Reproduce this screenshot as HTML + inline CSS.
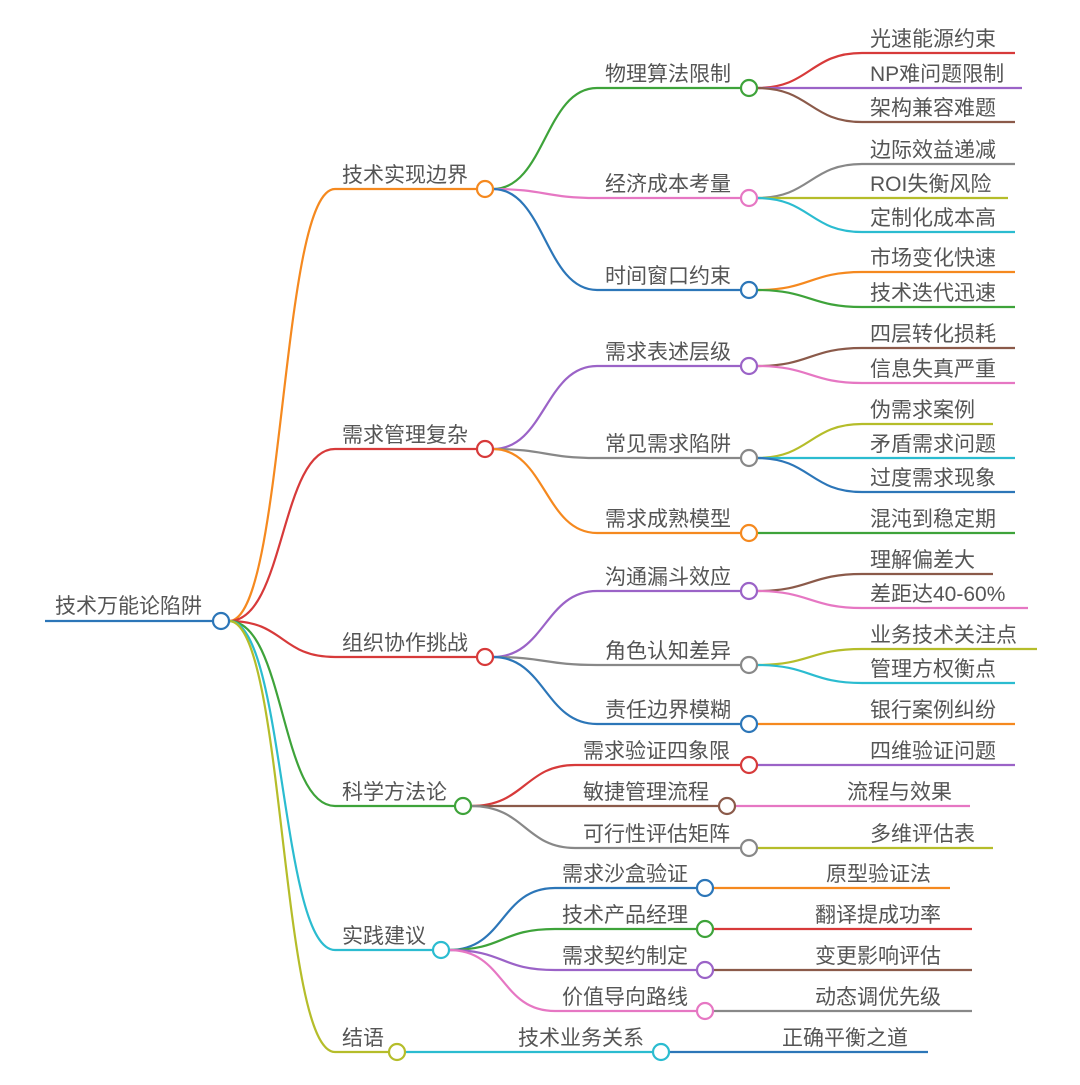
<!DOCTYPE html>
<html><head><meta charset="utf-8"><style>
html,body{margin:0;padding:0;background:#fff;}
svg text{font-family:"Liberation Sans","Noto Sans CJK SC",sans-serif;font-size:21px;fill:#555;}
path{fill:none;stroke-width:2.2;}
circle{fill:#fff;stroke-width:2.2;}
</style></head><body>
<svg width="1080" height="1080" viewBox="0 0 1080 1080" xmlns="http://www.w3.org/2000/svg">
<!-- root -->
<path d="M45 621 L213 621" stroke="#2c76b8" stroke-width="3"/>
<text x="55" y="613">技术万能论陷阱</text>
<!-- level1 edges -->
<path d="M229 621 C285 621 280 189 335 189 L477 189" stroke="#f5891f"/>
<path d="M229 621 C285 621 280 449 335 449 L477 449" stroke="#d73a3a"/>
<path d="M229 621 C285 621 280 657 335 657 L477 657" stroke="#d73a3a"/>
<path d="M229 621 C285 621 280 806 335 806 L455 806" stroke="#3ea33a"/>
<path d="M229 621 C285 621 280 950 335 950 L433 950" stroke="#2bbcd0"/>
<path d="M229 621 C285 621 280 1052 335 1052 L389 1052" stroke="#b5bd2a"/>
<text x="342" y="182">技术实现边界</text>
<text x="342" y="442">需求管理复杂</text>
<text x="342" y="650">组织协作挑战</text>
<text x="342" y="799">科学方法论</text>
<text x="342" y="943">实践建议</text>
<text x="342" y="1045">结语</text>
<!-- level2 edges -->
<path d="M493 189 C545 189 545 88 597 88 L741 88" stroke="#3ea33a"/>
<path d="M493 189 C545 189 545 198 597 198 L741 198" stroke="#e677c3"/>
<path d="M493 189 C545 189 545 290 597 290 L741 290" stroke="#2c76b8"/>
<path d="M493 449 C545 449 545 366 597 366 L741 366" stroke="#9b63c7"/>
<path d="M493 449 C545 449 545 458 597 458 L741 458" stroke="#888"/>
<path d="M493 449 C545 449 545 533 597 533 L741 533" stroke="#f5891f"/>
<path d="M493 657 C545 657 545 591 597 591 L741 591" stroke="#9b63c7"/>
<path d="M493 657 C545 657 545 665 597 665 L741 665" stroke="#888"/>
<path d="M493 657 C545 657 545 724 597 724 L741 724" stroke="#2c76b8"/>
<path d="M471 806 C525 806 525 765 575 765 L741 765" stroke="#d73a3a"/>
<path d="M471 806 L719 806" stroke="#8b5a4a"/>
<path d="M471 806 C525 806 525 848 575 848 L741 848" stroke="#888"/>
<path d="M449 950 C505 950 500 888 555 888 L697 888" stroke="#2c76b8"/>
<path d="M449 950 C505 950 500 929 555 929 L697 929" stroke="#3ea33a"/>
<path d="M449 950 C505 950 500 970 555 970 L697 970" stroke="#9b63c7"/>
<path d="M449 950 C505 950 500 1011 555 1011 L697 1011" stroke="#e677c3"/>
<path d="M405 1052 L653 1052" stroke="#2bbcd0"/>
<text x="605" y="81">物理算法限制</text>
<text x="605" y="191">经济成本考量</text>
<text x="605" y="283">时间窗口约束</text>
<text x="605" y="359">需求表述层级</text>
<text x="605" y="451">常见需求陷阱</text>
<text x="605" y="526">需求成熟模型</text>
<text x="605" y="584">沟通漏斗效应</text>
<text x="605" y="658">角色认知差异</text>
<text x="605" y="717">责任边界模糊</text>
<text x="583" y="758">需求验证四象限</text>
<text x="583" y="799">敏捷管理流程</text>
<text x="583" y="841">可行性评估矩阵</text>
<text x="562" y="881">需求沙盒验证</text>
<text x="562" y="922">技术产品经理</text>
<text x="562" y="963">需求契约制定</text>
<text x="562" y="1004">价值导向路线</text>
<text x="518" y="1045">技术业务关系</text>
<!-- level3 edges -->
<path d="M757 88 C810 88 810 53 862 53 L1015 53" stroke="#d73a3a"/>
<path d="M757 88 L1022 88" stroke="#9b63c7"/>
<path d="M757 88 C810 88 810 122 862 122 L1015 122" stroke="#8b5a4a"/>
<path d="M757 198 C810 198 810 164 862 164 L1015 164" stroke="#888"/>
<path d="M757 198 L1008 198" stroke="#b5bd2a"/>
<path d="M757 198 C810 198 810 232 862 232 L1015 232" stroke="#2bbcd0"/>
<path d="M757 290 C810 290 810 272 862 272 L1015 272" stroke="#f5891f"/>
<path d="M757 290 C810 290 810 307 862 307 L1015 307" stroke="#3ea33a"/>
<path d="M757 366 C810 366 810 348 862 348 L1015 348" stroke="#8b5a4a"/>
<path d="M757 366 C810 366 810 383 862 383 L1015 383" stroke="#e677c3"/>
<path d="M757 458 C810 458 810 424 862 424 L993 424" stroke="#b5bd2a"/>
<path d="M757 458 L1015 458" stroke="#2bbcd0"/>
<path d="M757 458 C810 458 810 492 862 492 L1015 492" stroke="#2c76b8"/>
<path d="M757 533 L1015 533" stroke="#3ea33a"/>
<path d="M757 591 C810 591 810 574 862 574 L993 574" stroke="#8b5a4a"/>
<path d="M757 591 C810 591 810 608 862 608 L1028 608" stroke="#e677c3"/>
<path d="M757 665 C810 665 810 649 862 649 L1037 649" stroke="#b5bd2a"/>
<path d="M757 665 C810 665 810 683 862 683 L1015 683" stroke="#2bbcd0"/>
<path d="M757 724 L1015 724" stroke="#f5891f"/>
<path d="M757 765 L1015 765" stroke="#9b63c7"/>
<path d="M735 806 L970 806" stroke="#e677c3"/>
<path d="M757 848 L993 848" stroke="#b5bd2a"/>
<path d="M713 888 L950 888" stroke="#f5891f"/>
<path d="M713 929 L972 929" stroke="#d73a3a"/>
<path d="M713 970 L972 970" stroke="#8b5a4a"/>
<path d="M713 1011 L972 1011" stroke="#888"/>
<path d="M669 1052 L928 1052" stroke="#2c76b8"/>
<text x="870" y="46">光速能源约束</text>
<text x="870" y="81">NP难问题限制</text>
<text x="870" y="115">架构兼容难题</text>
<text x="870" y="157">边际效益递减</text>
<text x="870" y="191">ROI失衡风险</text>
<text x="870" y="225">定制化成本高</text>
<text x="870" y="265">市场变化快速</text>
<text x="870" y="300">技术迭代迅速</text>
<text x="870" y="341">四层转化损耗</text>
<text x="870" y="376">信息失真严重</text>
<text x="870" y="417">伪需求案例</text>
<text x="870" y="451">矛盾需求问题</text>
<text x="870" y="485">过度需求现象</text>
<text x="870" y="526">混沌到稳定期</text>
<text x="870" y="567">理解偏差大</text>
<text x="870" y="601">差距达40-60%</text>
<text x="870" y="642">业务技术关注点</text>
<text x="870" y="676">管理方权衡点</text>
<text x="870" y="717">银行案例纠纷</text>
<text x="870" y="758">四维验证问题</text>
<text x="847" y="799">流程与效果</text>
<text x="870" y="841">多维评估表</text>
<text x="826" y="881">原型验证法</text>
<text x="815" y="922">翻译提成功率</text>
<text x="815" y="963">变更影响评估</text>
<text x="815" y="1004">动态调优先级</text>
<text x="782" y="1045">正确平衡之道</text>
<!-- circles -->
<circle cx="221" cy="621" r="8" stroke="#2c76b8"/>
<circle cx="485" cy="189" r="8" stroke="#f5891f"/>
<circle cx="485" cy="449" r="8" stroke="#d73a3a"/>
<circle cx="485" cy="657" r="8" stroke="#d73a3a"/>
<circle cx="463" cy="806" r="8" stroke="#3ea33a"/>
<circle cx="441" cy="950" r="8" stroke="#2bbcd0"/>
<circle cx="397" cy="1052" r="8" stroke="#b5bd2a"/>
<circle cx="749" cy="88" r="8" stroke="#3ea33a"/>
<circle cx="749" cy="198" r="8" stroke="#e677c3"/>
<circle cx="749" cy="290" r="8" stroke="#2c76b8"/>
<circle cx="749" cy="366" r="8" stroke="#9b63c7"/>
<circle cx="749" cy="458" r="8" stroke="#888"/>
<circle cx="749" cy="533" r="8" stroke="#f5891f"/>
<circle cx="749" cy="591" r="8" stroke="#9b63c7"/>
<circle cx="749" cy="665" r="8" stroke="#888"/>
<circle cx="749" cy="724" r="8" stroke="#2c76b8"/>
<circle cx="749" cy="765" r="8" stroke="#d73a3a"/>
<circle cx="727" cy="806" r="8" stroke="#8b5a4a"/>
<circle cx="749" cy="848" r="8" stroke="#888"/>
<circle cx="705" cy="888" r="8" stroke="#2c76b8"/>
<circle cx="705" cy="929" r="8" stroke="#3ea33a"/>
<circle cx="705" cy="970" r="8" stroke="#9b63c7"/>
<circle cx="705" cy="1011" r="8" stroke="#e677c3"/>
<circle cx="661" cy="1052" r="8" stroke="#2bbcd0"/>
</svg>
</body></html>
